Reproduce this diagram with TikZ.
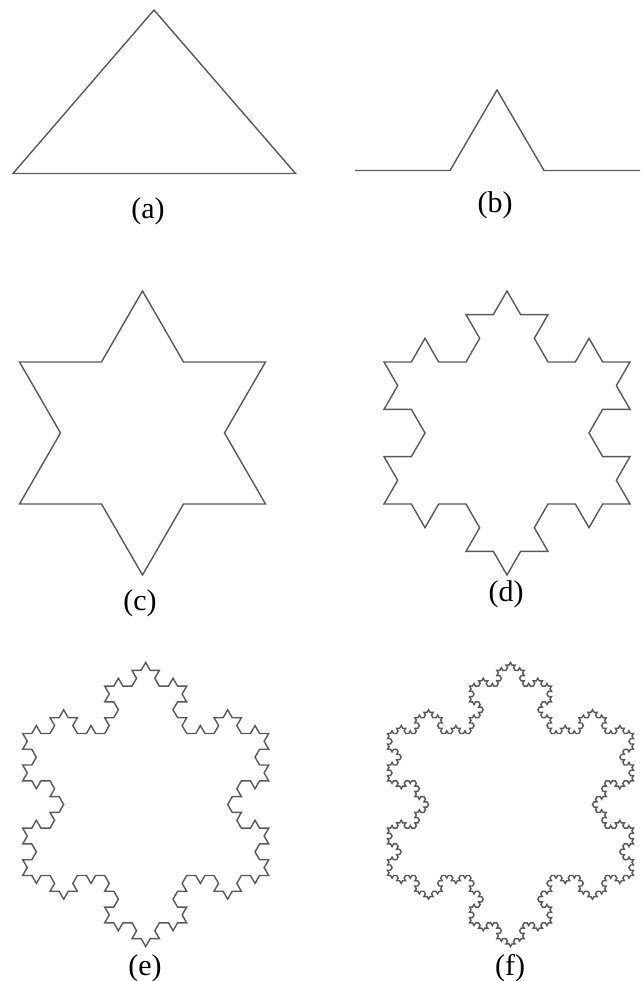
\documentclass[tikz,border=0pt]{standalone}
\usepackage{fontspec}
\setmainfont{Liberation Serif}
\usetikzlibrary{lindenmayersystems}
\pgfdeclarelindenmayersystem{Koch curve}{\rule{F -> F-F++F-F}}

\begin{document}
\begin{tikzpicture}[x=1pt, y=1pt,
  curve/.style={draw=black!65, line width=1.4pt},
  caption/.style={anchor=base, font=\fontsize{30}{36}\selectfont}]
 \useasboundingbox (0,0) rectangle (641,-981);
 % initiator and generator
 \draw[curve] (13,-173.5) -- (154,-10) -- (295.5,-173.5) -- cycle;
 \draw[curve] (355,-170.5) -- (450,-170.5) -- (497,-90) -- (544,-170.5) -- (640,-170.5);
 % snowflakes, order 1 to 4
 \foreach \n/\x/\y/\s in {1/19.5/504/82, 2/384/504/27.333, 3/22.7/875.5/9.111, 4/387.5/875.5/3.037}{
   \draw[curve, shift={(\x,-\y)}, l-system={Koch curve, axiom=F++F++F, order=\n, step=\s pt, angle=60}] lindenmayer system -- cycle;
 }
 \foreach \x/\y/\t in {148/219/a, 495/212.5/b, 140/610/c, 506/601.5/d, 145/975/e, 510/975/f}
   \node[caption] (lbl-\t) at (\x,-\y) {(\t)};
\end{tikzpicture}
\end{document}
